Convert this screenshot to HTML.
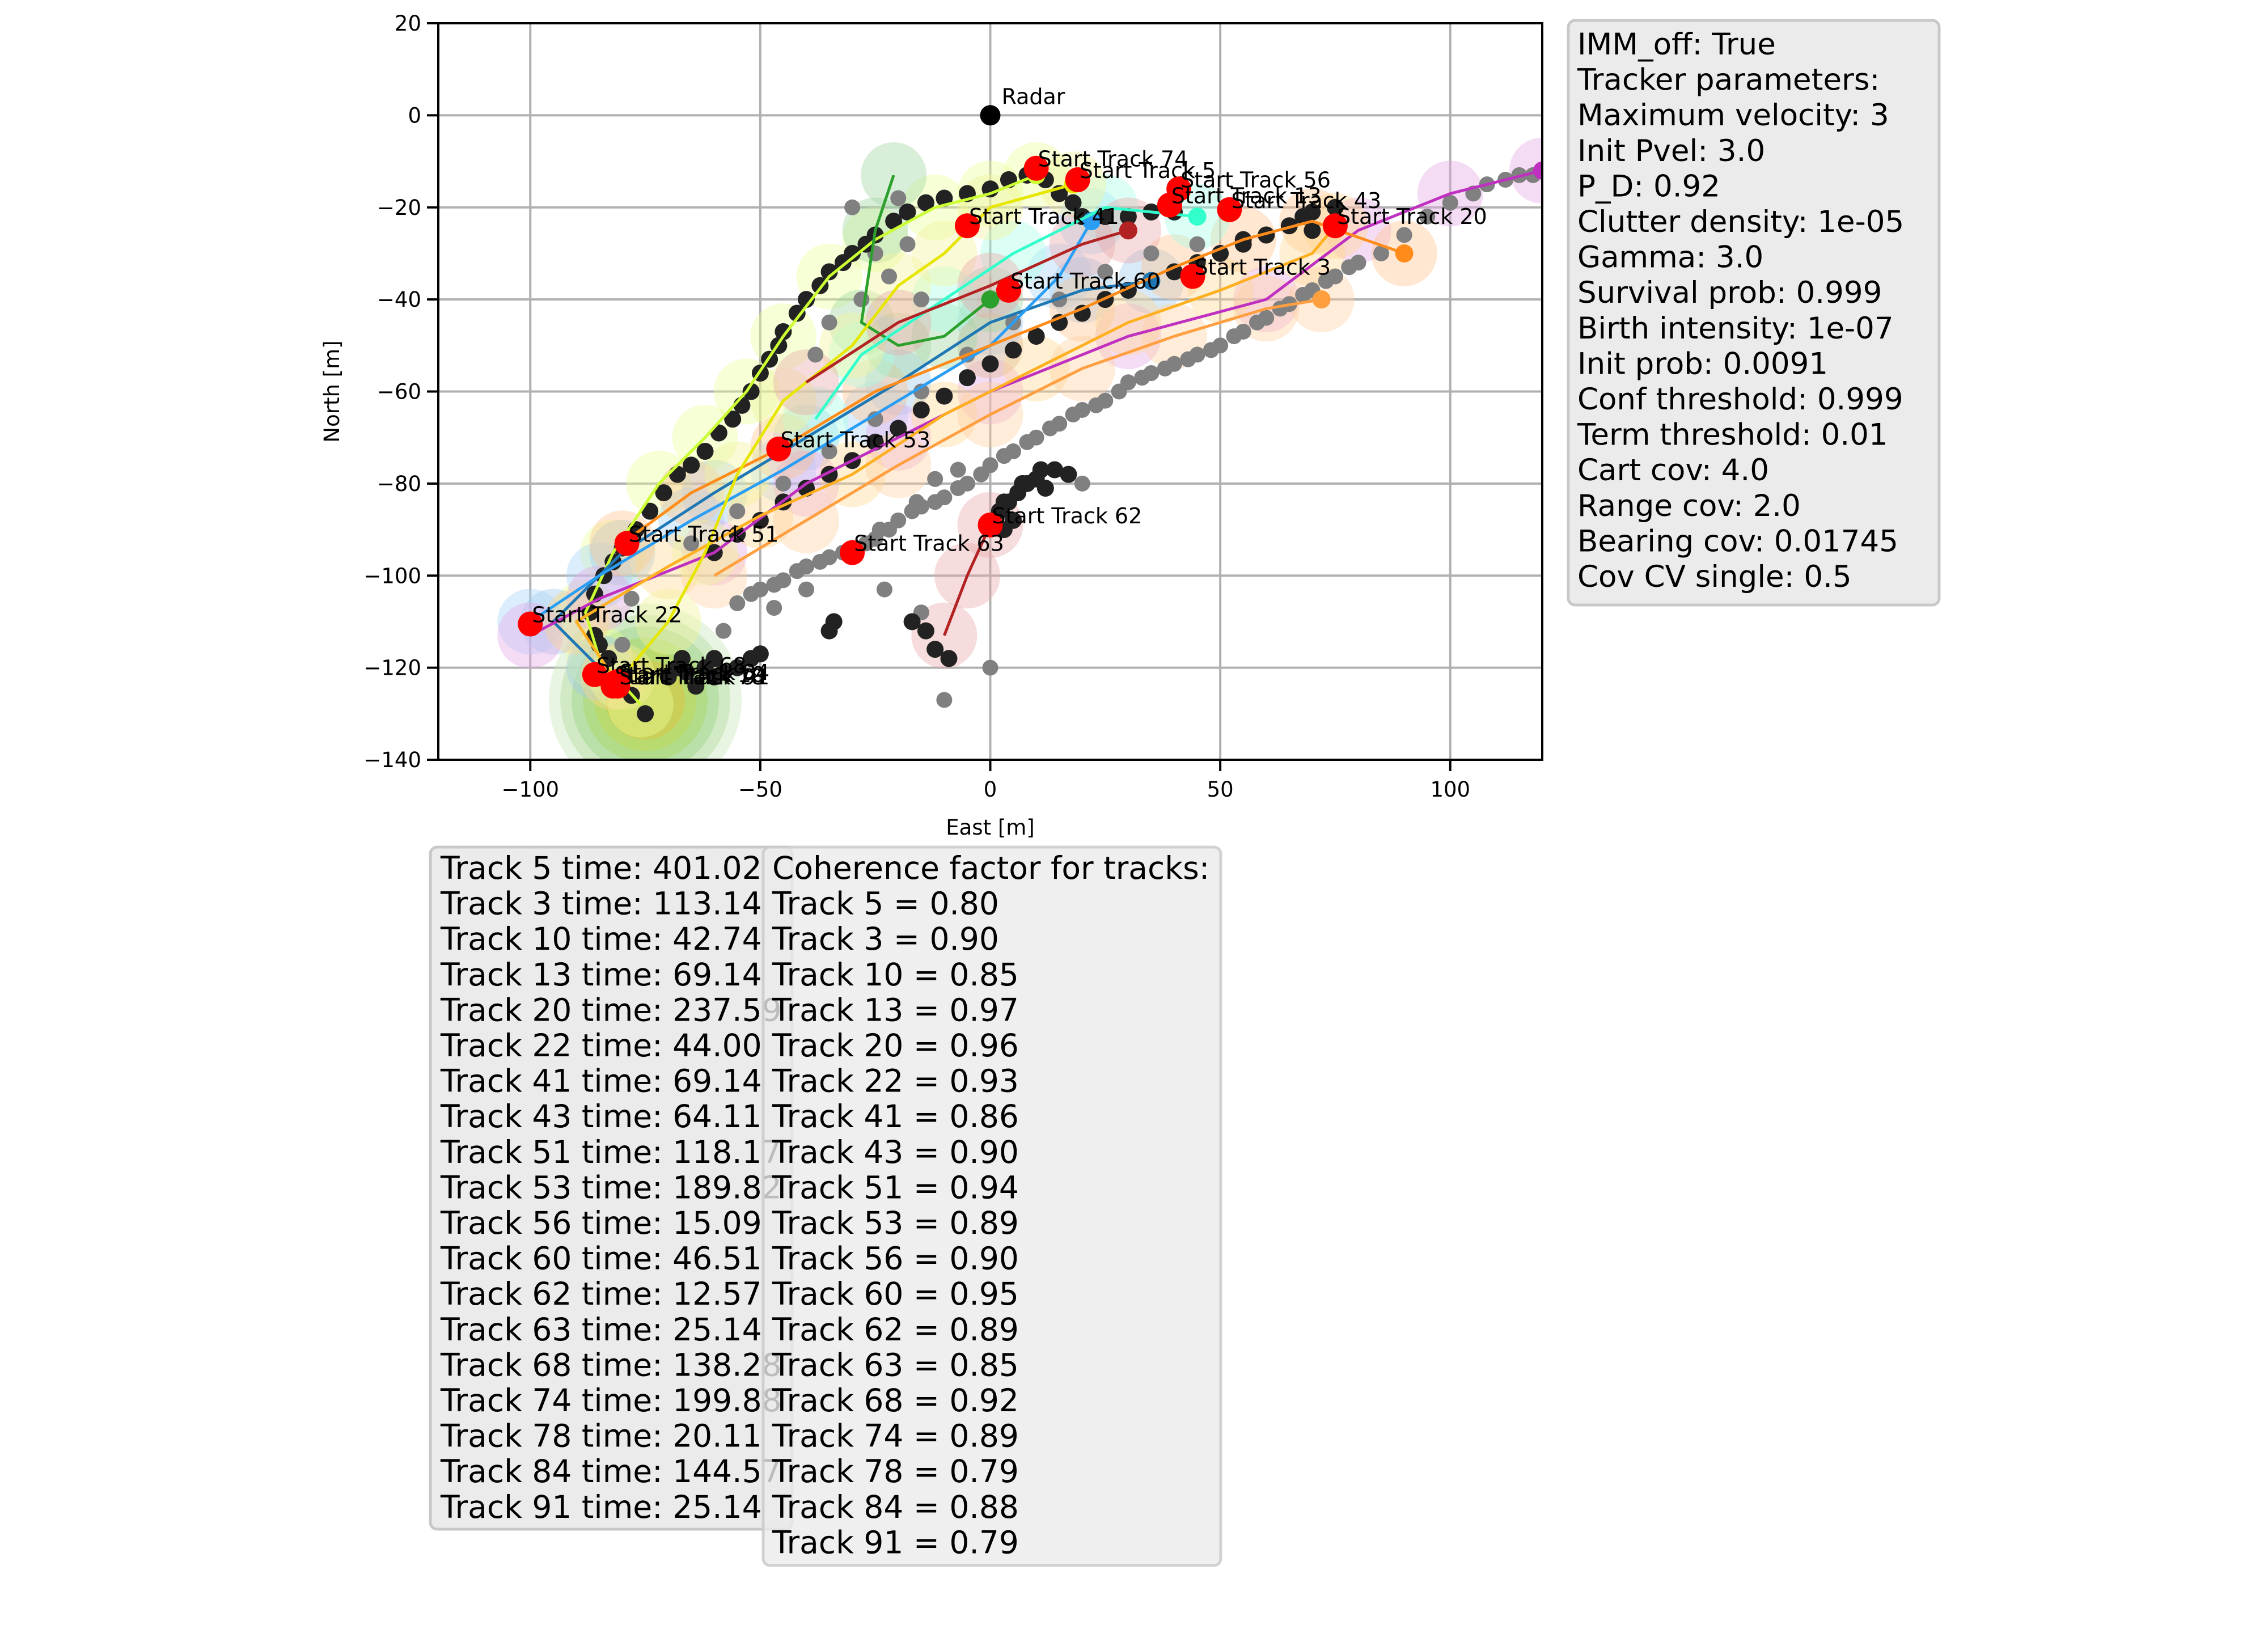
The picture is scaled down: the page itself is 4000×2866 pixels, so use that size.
<!DOCTYPE html>
<html><head><meta charset="utf-8"><style>
html,body{margin:0;padding:0;background:#fff;}
svg{display:block;font-family:"DejaVu Sans","Liberation Sans",sans-serif;}
</style></head><body>
<svg id="fig" width="4000" height="2866" viewBox="0 0 4000 2866" xmlns="http://www.w3.org/2000/svg">
<rect x="0" y="0" width="4000" height="2866" fill="#fff"/>
<g id="plot"></g>
<g id="axes"></g>
<g>
<rect x="2766" y="36" width="654" height="1031" rx="12" fill="#ebebeb" stroke="#c8c8c8" stroke-width="5"/>
<text id="ptext" font-size="53" fill="#000"></text>
</g>
<g>
<rect x="759" y="1494" width="638" height="1203" rx="12" fill="#ebebeb" stroke="#c8c8c8" stroke-width="5"/>
<text id="ttext" font-size="55" fill="#000"></text>
</g>
<g>
<rect x="1346" y="1494" width="807" height="1267" rx="12" fill="#ebebeb" fill-opacity="0.8" stroke="#c8c8c8" stroke-opacity="0.8" stroke-width="5"/>
<text id="ctext" font-size="55" fill="#000"></text>
</g>
</svg>
<script>
// axis domain
const xDomain=[-120,120];
const yDomain=[-140,20];
const xTicks=[-100,-50,0,50,100];
const xTickLabels=["\u2212100","\u221250","0","50","100"];
const yTicks=[20,0,-20,-40,-60,-80,-100,-120,-140];
const yTickLabels=["20","0","\u221220","\u221240","\u221260","\u221280","\u2212100","\u2212120","\u2212140"];

// detection bands (east,north)
const detDark=[[-75,-130],[-78,-126],[-80,-122],[-83,-118],[-85,-115],[-86,-113],[-87,-108],[-86,-104],[-84,-100],[-82,-97],[-80,-94],[-77,-90],[-74,-86],[-71,-82],[-68,-78],[-65,-76],[-62,-73],[-59,-69],[-56,-66],[-54,-63],[-52,-60],[-50,-56],[-48,-53],[-46,-50],[-45,-47],[-42,-43],[-40,-40],[-37,-37],[-35,-34],[-32,-32],[-30,-30],[-27,-28],[-25,-26],[-21,-23],[-18,-21],[-14,-19],[-10,-18],[-5,-17],[0,-16],[4,-14],[8,-13],[12,-14],[15,-17],[18,-19],[20,-22],[25,-22],[30,-22],[35,-21],[40,-21],[55,-27],[60,-26],[65,-24],[68,-22],[70,-21],[75,-20],
 [-60,-95],[-55,-91],[-50,-88],[-45,-84],[-40,-81],[-35,-78],[-30,-75],[-25,-71],[-20,-68],[-15,-64],[-10,-61],[-5,-57],[0,-54],[5,-51],[10,-48],[15,-45],[20,-43],[25,-40],[30,-38],[35,-36],[40,-34],[45,-32],[50,-30],[55,-28],[60,-26],[70,-25],
 [-70,-122],[-68,-120],[-66,-121],[-62,-120],[-60,-122],[-58,-121],[-55,-120],[-52,-118],[-50,-117],[-60,-118],[-64,-124],[-67,-118],[-35,-112],[-34,-110],[-17,-110],[-14,-112],[-12,-116],[-9,-118],
 [2,-86],[3,-84],[4,-84],[6,-82],[7,-80],[8,-80],[10,-79],[11,-77],[12,-81],[14,-77],[17,-78],[5,-88],[3,-90]];
const detGray=[[-55,-106],[-52,-104],[-50,-103],[-47,-102],[-45,-101],[-42,-99],[-40,-98],[-37,-97],[-35,-96],[-32,-95],[-30,-94],[-27,-93],[-25,-92],[-22,-90],[-20,-88],[-17,-86],[-15,-85],[-12,-84],[-10,-83],[-7,-81],[-5,-80],[-2,-78],[0,-76],[3,-74],[5,-73],[8,-71],[10,-70],[13,-68],[15,-67],[18,-65],[20,-64],[23,-63],[25,-62],[28,-60],[30,-58],[33,-57],[35,-56],[38,-55],[40,-54],[43,-53],[45,-52],[48,-51],[50,-50],[53,-48],[55,-47],[58,-45],[60,-44],[63,-42],[65,-41],[68,-39],[70,-38],[73,-36],[75,-35],[78,-33],[80,-32],
 [-80,-115],[-78,-105],[-65,-93],[-55,-86],[-45,-80],[-35,-73],[-25,-66],[-15,-60],[-5,-52],[5,-45],[15,-40],[25,-34],[35,-30],[45,-28],[85,-30],[90,-26],[95,-22],[100,-19],[105,-17],[108,-15],[112,-14],[115,-13],[118,-13],
 [-24,-90],[-16,-84],[-12,-79],[-7,-77],[-58,-112],[-47,-107],[-40,-103],[-23,-103],[-15,-108],[-10,-127],[0,-120],[20,-80],[-30,-20],[-25,-30],[-20,-18],[-15,-40],[-35,-45],[-28,-40],[-22,-35],[-18,-28],[-38,-52]];

// tracks: colours + points
const trackColors=["#ccff33","#1f77b4","#2a9df4","#c030c0","#ff8c1a","#ffb020","#ff9f40","#b22222","#2ca02c","#33ffcc","#e6e600","#b22222"];
const haloColors=["#e8ff99","#9ec8ea","#a8d4fa","#e6a8e6","#ffc48c","#ffd890","#ffcf9f","#e8a8a8","#9fd49f","#a8ffe6","#f2f29a","#e8a8a8"];
const tracks=[
 [[-76,-128],[-85,-118],[-88,-108],[-82,-95],[-72,-80],[-62,-70],[-53,-60],[-45,-48],[-35,-35],[-25,-27],[-12,-20],[0,-17],[10,-13]],
 [[-85,-120],[-95,-110],[-80,-95],[-60,-82],[-40,-70],[-20,-58],[0,-45],[20,-38],[35,-36]],
 [[-100,-110],[-85,-100],[-65,-88],[-45,-77],[-25,-65],[0,-50],[15,-35],[22,-23]],
 [[-100,-113],[-85,-105],[-60,-95],[-40,-80],[-20,-70],[0,-60],[30,-48],[60,-40],[80,-25],[100,-17],[120,-12]],
 [[-80,-93],[-65,-82],[-45,-72],[-25,-60],[0,-50],[20,-42],[40,-33],[55,-27],[70,-23],[90,-30]],
 [[-82,-122],[-90,-110],[-70,-98],[-50,-87],[-30,-78],[-10,-65],[10,-55],[30,-45],[50,-38],[70,-30],[75,-24]],
 [[-60,-100],[-40,-88],[-20,-76],[0,-65],[20,-55],[40,-48],[60,-42],[72,-40]],
 [[-10,-113],[-5,-100],[0,-89]],
 [[-21,-13],[-25,-25],[-28,-45],[-20,-50],[-10,-48],[0,-40]],
 [[-38,-66],[-28,-52],[-10,-40],[5,-30],[25,-20],[45,-22]],
 [[-80,-122],[-70,-110],[-62,-95],[-55,-78],[-45,-62],[-30,-50],[-20,-37],[-10,-30],[0,-20],[18,-15]],
 [[-40,-58],[-20,-45],[0,-37],[20,-28],[30,-25]]
];

// start markers
const startNames=["Start Track 74","Start Track 5","Start Track 56","Start Track 13","Start Track 43","Start Track 20","Start Track 41","Start Track 60","Start Track 3","Start Track 53","Start Track 62","Start Track 63","Start Track 51","Start Track 22","Start Track 68","Start Track 78","Start Track 84","Start Track 10","Start Track 91"];
const startX=[10,19,41,39,52,75,-5,4,44,-46,0,-30,-79,-100,-86,-82,-81,-82,-81];
const startY=[-11.5,-14,-16,-19.5,-20.5,-24,-24,-38,-35,-72.5,-89,-95,-93,-110.5,-121.5,-124,-123,-123.5,-124];

const paramLines=["IMM_off: True","Tracker parameters:","Maximum velocity: 3","Init Pvel: 3.0","P_D: 0.92","Clutter density: 1e-05","Gamma: 3.0","Survival prob: 0.999","Birth intensity: 1e-07","Init prob: 0.0091","Conf threshold: 0.999","Term threshold: 0.01","Cart cov: 4.0","Range cov: 2.0","Bearing cov: 0.01745","Cov CV single: 0.5"];
const trackIds=[5,3,10,13,20,22,41,43,51,53,56,60,62,63,68,74,78,84,91];
const trackTimes=["401.02","113.14","42.74","69.14","237.59","44.00","69.14","64.11","118.17","189.82","15.09","46.51","12.57","25.14","138.28","199.88","20.11","144.57","25.14"];
const coherence=["0.80","0.90","0.85","0.97","0.96","0.93","0.86","0.90","0.94","0.89","0.90","0.95","0.89","0.85","0.92","0.89","0.79","0.88","0.79"];

const L=773,R=2720,T=41,B=1340;
const sx=v=>L+(v-xDomain[0])/(xDomain[1]-xDomain[0])*(R-L);
const sy=v=>T+(yDomain[1]-v)/(yDomain[1]-yDomain[0])*(B-T);
const NS="http://www.w3.org/2000/svg";
function mk(tag,attrs,parent){const e=document.createElementNS(NS,tag);for(const k in attrs)e.setAttribute(k,attrs[k]);parent.appendChild(e);return e;}
const plot=document.getElementById('plot');
const axes=document.getElementById('axes');
const cp=mk('clipPath',{id:'clip'},plot);
mk('rect',{x:L,y:T,width:R-L,height:B-T},cp);
const g=mk('g',{'clip-path':'url(#clip)'},plot);

// grid
xTicks.forEach(v=>{const l=mk('line',{x1:sx(v),x2:sx(v),y1:T,y2:B,stroke:'#b0b0b0','stroke-width':4},g);

});
yTicks.forEach(v=>{const l=mk('line',{x1:L,x2:R,y1:sy(v),y2:sy(v),stroke:'#b0b0b0','stroke-width':4},g);

});

// big green halo near -75,-127
[170,150,130,110,90,70].forEach((r,i)=>{const c=mk('circle',{cx:sx(-75),cy:sy(-127),r:r,fill:['#cfe8c2','#b4dda0','#9ed488','#a8d860','#c0d850','#e0c040'][i],'fill-opacity':0.45},g);

});

// halos
tracks.forEach((t,i)=>{t.forEach(p=>{const c=mk('circle',{cx:sx(p[0]),cy:sy(p[1]),r:58,fill:haloColors[i],'fill-opacity':0.4},g);

});});

// detections
detGray.forEach(p=>{const c=mk('circle',{cx:sx(p[0]),cy:sy(p[1]),r:14,fill:'#808080'},g);

});
detDark.forEach(p=>{const c=mk('circle',{cx:sx(p[0]),cy:sy(p[1]),r:15,fill:'#222'},g);

});

// track lines
tracks.forEach((t,i)=>{const pl=mk('polyline',{points:t.map(p=>sx(p[0])+','+sy(p[1])).join(' '),fill:'none',stroke:trackColors[i],'stroke-width':5,'stroke-linejoin':'round'},g);


const e=t[t.length-1];const c=mk('circle',{cx:sx(e[0]),cy:sy(e[1]),r:16,fill:trackColors[i]},g);

});

// radar
const rc=mk('circle',{cx:sx(0),cy:sy(0),r:18,fill:'#000'},g);


const rt=mk('text',{x:sx(0)+20,y:sy(0)-20,'font-size':38},g);rt.textContent='Radar';



// start markers
startNames.forEach((n,i)=>{const c=mk('circle',{cx:sx(startX[i]),cy:sy(startY[i]),r:22,fill:'#ff0000'},g);


const t=mk('text',{x:sx(startX[i])+3,y:sy(startY[i])-3,'font-size':38},g);t.textContent=n;

});

// spines
const sp=mk('rect',{x:L,y:T,width:R-L,height:B-T,fill:'none',stroke:'#000','stroke-width':4},axes);


xTicks.forEach((v,i)=>{mk('line',{x1:sx(v),x2:sx(v),y1:B,y2:B+20,stroke:'#000','stroke-width':4},axes);
const t=mk('text',{x:sx(v),y:B+65,'font-size':37,'text-anchor':'middle'},axes);t.textContent=xTickLabels[i];

});
yTicks.forEach((v,i)=>{mk('line',{x1:L-20,x2:L,y1:sy(v),y2:sy(v),stroke:'#000','stroke-width':4},axes);
const t=mk('text',{x:L-30,y:sy(v)+13,'font-size':37,'text-anchor':'end'},axes);t.textContent=yTickLabels[i];

});
const xl=mk('text',{x:(L+R)/2,y:1472,'font-size':37,'text-anchor':'middle'},axes);xl.textContent='East [m]';


const yl=mk('text',{x:0,y:0,'font-size':37,'text-anchor':'middle',transform:'translate(598,'+((T+B)/2)+') rotate(-90)'},axes);yl.textContent='North [m]';



function fill(id,lines,x,y0,lh){const t=document.getElementById(id);lines.forEach((s,i)=>{const ts=document.createElementNS(NS,'tspan');ts.setAttribute('x',x);ts.setAttribute('y',y0+i*lh);ts.textContent=s;t.appendChild(ts);});}
fill('ptext',paramLines,2782,96,62.6);
fill('ttext',trackIds.map((id,i)=>'Track '+id+' time: '+trackTimes[i]),777,1550,62.6);
fill('ctext',['Coherence factor for tracks:'].concat(trackIds.map((id,i)=>'Track '+id+' = '+coherence[i])),1362,1550,62.6);
</script>
</body></html>
